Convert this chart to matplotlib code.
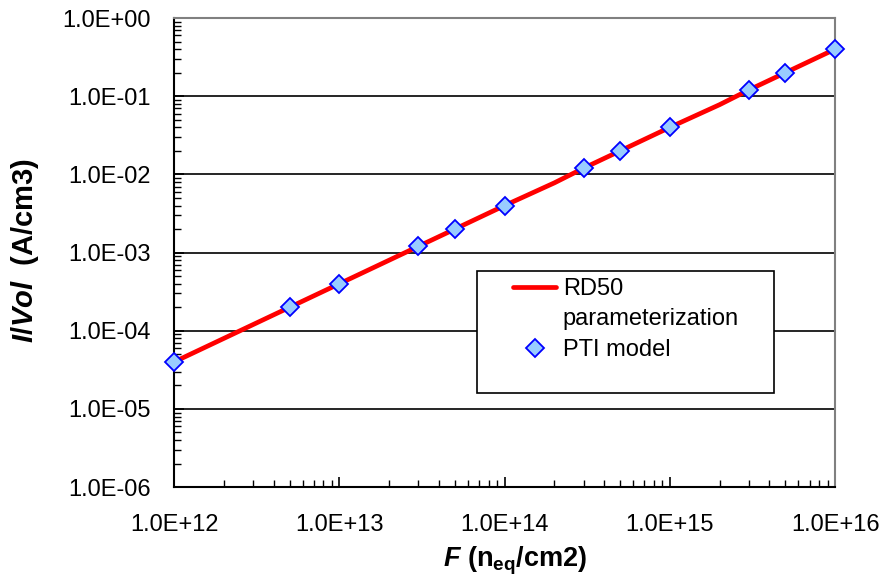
import matplotlib
matplotlib.use("Agg")
import matplotlib.pyplot as plt
from matplotlib.lines import Line2D
from matplotlib.patches import Rectangle
from matplotlib.ticker import LogLocator, FuncFormatter, NullFormatter

plt.rcParams["font.family"] = ["Liberation Sans", "DejaVu Sans"]
plt.rcParams["mathtext.fontset"] = "custom"
plt.rcParams["mathtext.rm"] = "Liberation Sans:bold"
plt.rcParams["mathtext.it"] = "Liberation Sans:bold:italic"
plt.rcParams["mathtext.bf"] = "Liberation Sans:bold"

# fluence (n_eq/cm2) and leakage current per volume (A/cm3)
fluence_line = [1e12, 2e12, 3e12, 5e12, 1e13, 2e13, 3e13, 5e13, 1e14, 2e14,
                3e14, 5e14, 1e15, 2e15, 3e15, 5e15, 1e16]
current_line = [4.0e-5, 8.0e-5, 1.2e-4, 2.0e-4, 4.0e-4, 8.0e-4, 1.2e-3, 2.0e-3,
                4.0e-3, 7.8e-3, 1.2e-2, 2.0e-2, 4.0e-2, 7.8e-2, 1.2e-1, 2.0e-1, 4.0e-1]

fluence_pti = [1e12, 5e12, 1e13, 3e13, 5e13, 1e14, 3e14, 5e14, 1e15, 3e15, 5e15, 1e16]
current_pti = [4.0e-5, 2.0e-4, 4.0e-4, 1.2e-3, 2.0e-3, 4.0e-3, 1.2e-2, 2.0e-2,
               4.0e-2, 1.2e-1, 2.0e-1, 4.0e-1]

fig = plt.figure(figsize=(8.8, 5.82), dpi=100)
ax = fig.add_axes([0.198, 0.163, 0.751, 0.806])

rd50, = ax.plot(fluence_line, current_line, color="#FF0000", lw=3.4, zorder=3,
                solid_capstyle="round", clip_on=False)
pti, = ax.plot(fluence_pti, current_pti, ls="none", marker="D", ms=9.5,
               mfc="#99CCFF", mec="#0000FF", mew=1.3, zorder=4, clip_on=False)

ax.set_xscale("log")
ax.set_yscale("log")
ax.set_xlim(1e12, 1e16)
ax.set_ylim(1e-6, 1)

sci = FuncFormatter(lambda v, pos: "%.1E" % v)
ax.xaxis.set_major_formatter(sci)
ax.yaxis.set_major_formatter(sci)
ax.xaxis.set_major_locator(LogLocator(base=10, numticks=10))
ax.yaxis.set_major_locator(LogLocator(base=10, numticks=10))
ax.xaxis.set_minor_locator(LogLocator(base=10, subs=range(2, 10), numticks=20))
ax.yaxis.set_minor_locator(LogLocator(base=10, subs=range(2, 10), numticks=20))
ax.xaxis.set_minor_formatter(NullFormatter())
ax.yaxis.set_minor_formatter(NullFormatter())

ax.tick_params(which="both", direction="in", top=False, right=False,
               labelsize=17, colors="black")
ax.tick_params(which="major", length=7, width=1.2)
ax.tick_params(which="minor", length=5, width=1.0)
ax.tick_params(axis="x", which="major", pad=19)
ax.tick_params(axis="y", which="major", pad=17)

ax.yaxis.grid(True, which="major", color="black", lw=1.2)
ax.set_axisbelow(True)

for side in ("left", "bottom"):
    ax.spines[side].set_color("black")
    ax.spines[side].set_linewidth(1.5)
for side in ("top", "right"):
    ax.spines[side].set_color("#808080")
    ax.spines[side].set_linewidth(1.5)

ax.set_xlabel(r"$\it{F}$ (n$_{\rm eq}$/cm2)", fontsize=19.5, fontweight="bold")
ax.set_ylabel(r"$\it{I/Vol}$  (A/cm3)", fontsize=21, fontweight="bold")
ax.xaxis.set_label_coords(0.516, -0.122)
ax.yaxis.set_label_coords(-0.202, 0.505)

# legend box with extra room below the entries
ax.add_patch(Rectangle((0.458, 0.200), 0.450, 0.261, transform=ax.transAxes,
                       facecolor="white", edgecolor="black", lw=1.2, zorder=5))
blank = Line2D([], [], color="none")
leg = ax.legend([rd50, blank, pti], ["RD50", "parameterization", "PTI model"],
                loc="upper left", bbox_to_anchor=(0.513, 0.446), fontsize=17,
                frameon=False, handlelength=1.8, handletextpad=0.3,
                borderpad=0, labelspacing=0.36, borderaxespad=0)
leg.set_zorder(6)

fig.savefig("out.png", dpi=100)
